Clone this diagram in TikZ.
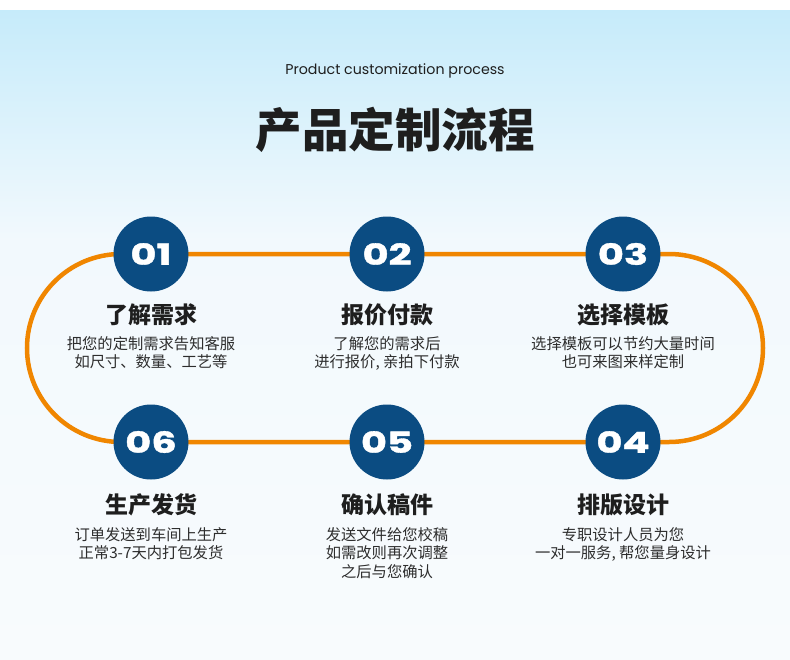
\documentclass[tikz,border=0pt]{standalone}
\usepackage{fontspec}
\setmainfont{Poppins}
\newfontfamily\cjk{Noto Sans CJK SC}
\newfontfamily\numfont{Poppins}[BoldFeatures={FakeBold=1.2}]
\definecolor{trackorange}{RGB}{240,134,0}
\definecolor{stepblue}{RGB}{11,76,130}
\definecolor{bgtop}{RGB}{198,235,250}
\definecolor{bgmid}{RGB}{242,249,253}
\definecolor{bgbot}{RGB}{248,251,253}
\definecolor{titlegray}{RGB}{30,30,30}
\definecolor{descgray}{RGB}{45,45,45}
\newcommand{\stepnum}[1]{\scalebox{1.38}[1]{#1}}
\tikzset{
  stepdot/.style={circle, fill=stepblue, minimum size=75pt, inner sep=0pt,
    text=white, font=\numfont\bfseries\fontsize{29}{29}\selectfont},
  track/.style={draw=trackorange, line width=4.5pt},
  steptitle/.style={font=\cjk\bfseries\fontsize{23}{26}\selectfont, text=titlegray, inner sep=0pt},
  stepdesc/.style={font=\cjk\fontsize{15.3}{18.5}\selectfont, text=descgray, align=center, inner sep=0pt, anchor=north},
}
\begin{document}
\begin{tikzpicture}[x=1pt, y=-1pt]
\useasboundingbox (0,0) rectangle (790,659);
\fill[white] (0,0) rectangle (790,659);
\shade[top color=bgtop, bottom color=bgmid] (0,10) rectangle (790,240);
\shade[top color=bgmid, bottom color=bgbot] (0,240) rectangle (790,659);

\node[font=\fontsize{14.2}{16}\selectfont, text=titlegray] (sub) at (395,71) {Product customization process};
\node[font=\cjk\bfseries\fontsize{46.5}{50}\selectfont, text=titlegray] (title) at (395,130) {产品定制流程};

\coordinate (p1) at (151,254);
\coordinate (p2) at (387,254);
\coordinate (p3) at (623,254);
\coordinate (p4) at (623,442);
\coordinate (p5) at (387,442);
\coordinate (p6) at (151,442);

\draw[track] (p1) -- (p3) -- ++(46,0) arc[start angle=90, end angle=-90, radius=94pt]
  -- (p4) -- (p5) -- (p6) -- ++(-30,0) arc[start angle=270, end angle=90, radius=94pt] -- cycle;

\node[stepdot] (c1) at (p1) {\stepnum{01}};
\node[stepdot] (c2) at (p2) {\stepnum{02}};
\node[stepdot] (c3) at (p3) {\stepnum{03}};
\node[stepdot] (c4) at (p4) {\stepnum{04}};
\node[stepdot] (c5) at (p5) {\stepnum{05}};
\node[stepdot] (c6) at (p6) {\stepnum{06}};

\node[steptitle] (t1) at (151,315) {了解需求};
\node[steptitle] (t2) at (387,315) {报价付款};
\node[steptitle] (t3) at (623,315) {选择模板};
\node[steptitle] (t4) at (623,505) {排版设计};
\node[steptitle] (t5) at (387,505) {确认稿件};
\node[steptitle] (t6) at (151,505) {生产发货};

\node[stepdesc] (d1) at (151,336) {把您的定制需求告知客服\\如尺寸、数量、工艺等};
\node[stepdesc] (d2) at (387,336) {了解您的需求后\\进行报价, 亲拍下付款};
\node[stepdesc] (d3) at (623,336) {选择模板可以节约大量时间\\也可来图来样定制};
\node[stepdesc] (d4) at (623,527) {专职设计人员为您\\一对一服务, 帮您量身设计};
\node[stepdesc] (d5) at (387,527) {发送文件给您校稿\\如需改则再次调整\\之后与您确认};
\node[stepdesc] (d6) at (151,527) {订单发送到车间上生产\\正常3-7天内打包发货};
\end{tikzpicture}
\end{document}
